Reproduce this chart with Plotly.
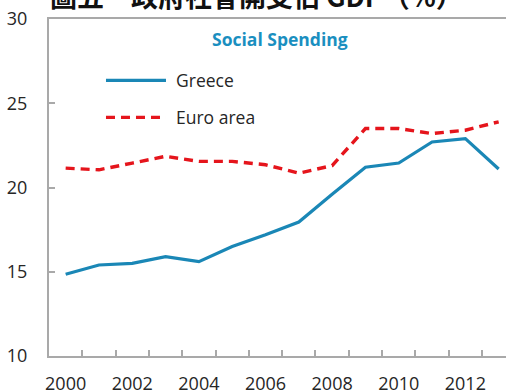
import plotly.graph_objects as go

years = list(range(2000, 2014))
greece = [14.85, 15.4, 15.5, 15.9, 15.6, 16.5, 17.2, 17.95, 19.6, 21.2, 21.45, 22.7, 22.9, 21.1]
euro_area = [21.15, 21.05, 21.45, 21.85, 21.55, 21.55, 21.35, 20.85, 21.3, 23.5, 23.5, 23.2, 23.4, 23.9]
series_names = ["Greece", "Euro area"]
x_label_years = [2000, 2002, 2004, 2006, 2008, 2010, 2012]
y_ticks = [10, 15, 20, 25, 30]
boundaries = [y + 0.5 for y in years[:-1]]

title_text = "圖五　政府社會開支佔 GDP（%）"
subtitle_text = "Social Spending"

BLUE = "#1a87b6"
RED = "#e5151c"
GREY = "#a9a9a9"
TXT = "#262626"
FONT = "Open Sans"

fig = go.Figure()
fig.add_trace(go.Scatter(x=years, y=greece, mode="lines", name=series_names[0],
                         line=dict(color=BLUE, width=3.2), showlegend=False))
fig.add_trace(go.Scatter(x=years, y=euro_area, mode="lines", name=series_names[1],
                         line=dict(color=RED, width=3.4, dash="9px,6px"), showlegend=False))

# manual legend
fig.add_shape(type="line", xref="paper", yref="paper", x0=0.1247, x1=0.256, y0=0.818, y1=0.818,
              line=dict(color=BLUE, width=3.2))
fig.add_shape(type="line", xref="paper", yref="paper", x0=0.1247, x1=0.256, y0=0.708, y1=0.708,
              line=dict(color=RED, width=3.4, dash="9px,6px"))
fig.add_annotation(x=0.2735, y=0.818, xref="paper", yref="paper", text=series_names[0],
                   showarrow=False, xanchor="left", yanchor="middle",
                   font=dict(family=FONT, size=17.5, color=TXT))
fig.add_annotation(x=0.2735, y=0.708, xref="paper", yref="paper", text=series_names[1],
                   showarrow=False, xanchor="left", yanchor="middle",
                   font=dict(family=FONT, size=17.5, color=TXT))

fig.add_annotation(x=0.5055, y=0.942, xref="paper", yref="paper", text="<b>" + subtitle_text + "</b>",
                   showarrow=False, xanchor="center", yanchor="middle",
                   font=dict(family=FONT, size=17.5, color="#1a8fc0"))

fig.add_annotation(x=0.453, y=1, xref="paper", yref="paper", text="<b>" + title_text + "</b>",
                   showarrow=False, xanchor="center", yanchor="bottom", yshift=2,
                   font=dict(family="Noto Sans CJK TC", size=27, color="#111111"))

fig.update_layout(
    width=506, height=392,
    margin=dict(l=49, r=0, t=19, b=36, autoexpand=False),
    paper_bgcolor="white", plot_bgcolor="white",
    showlegend=False,
    font=dict(family=FONT, size=18, color=TXT),
)
fig.update_xaxes(
    range=[1999.5, 2013.22], automargin=False,
    tickmode="array", tickvals=x_label_years, ticktext=[str(v) for v in x_label_years],
    ticks="", showgrid=False, zeroline=False,
    showline=True, linecolor=GREY, linewidth=2, mirror=True,
    ticklabelstandoff=10,
    minor=dict(tickmode="array", tickvals=boundaries, ticks="inside", ticklen=6,
               tickcolor=GREY, tickwidth=1.5, showgrid=False),
    tickfont=dict(family=FONT, size=18, color=TXT),
)
fig.update_yaxes(
    range=[10, 30], automargin=False, tickmode="array", tickvals=y_ticks,
    ticks="inside", ticklen=6, tickcolor=GREY, tickwidth=1.5,
    showgrid=False, zeroline=False,
    showline=True, linecolor=GREY, linewidth=2,
    ticklabelstandoff=16,
    tickfont=dict(family=FONT, size=18, color=TXT),
)

fig.write_html("out.html")
